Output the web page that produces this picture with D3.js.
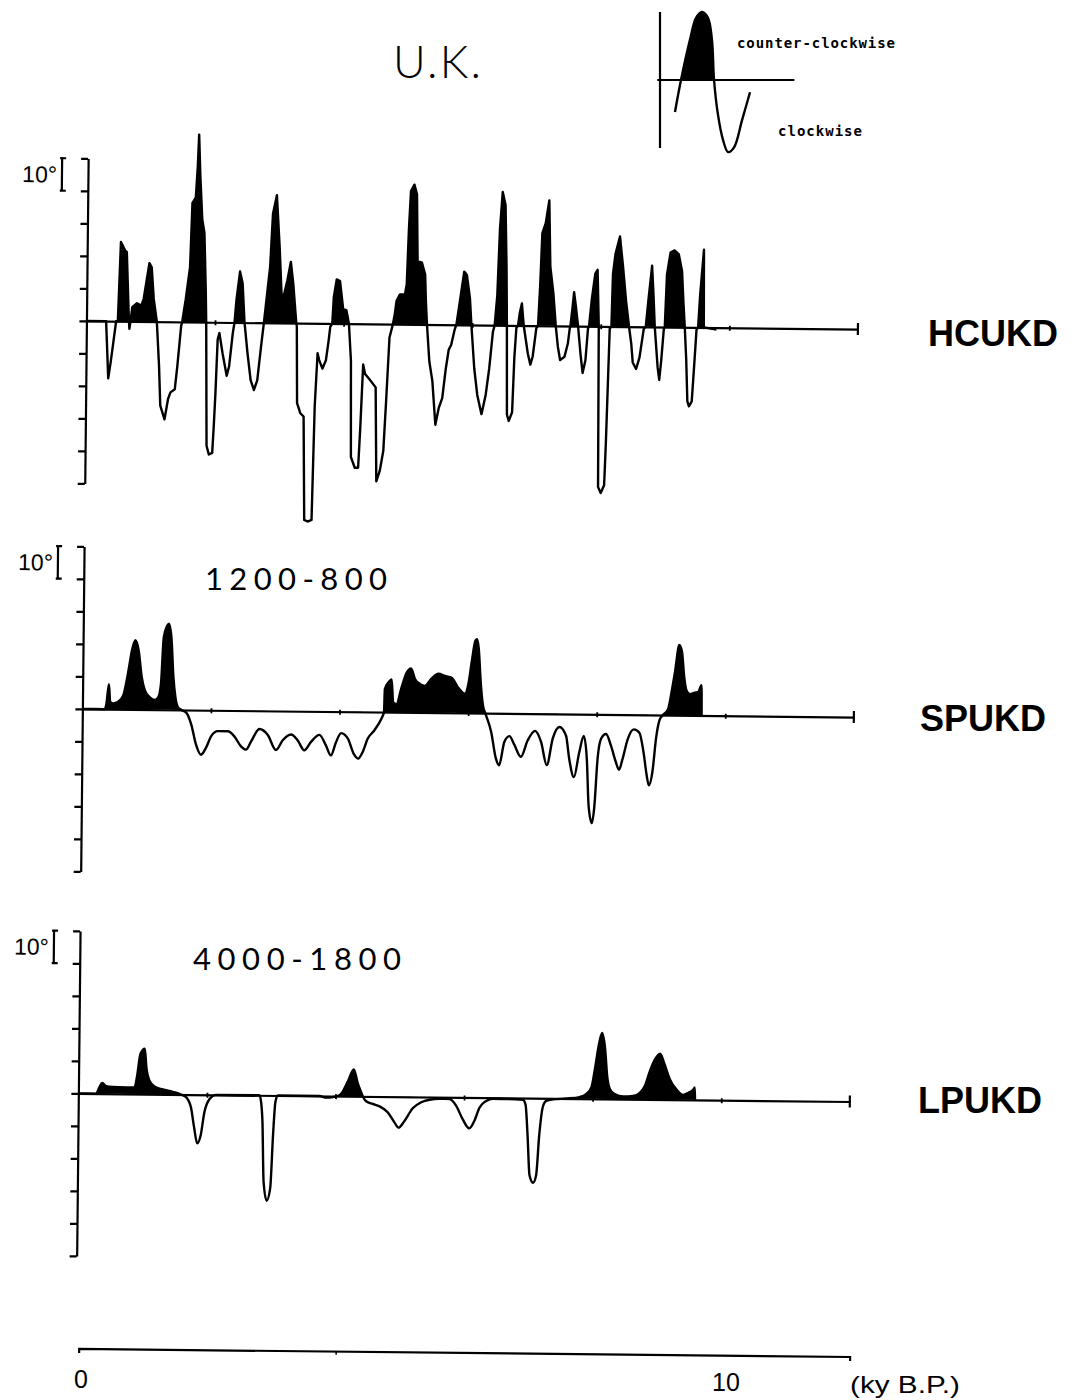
<!DOCTYPE html>
<html>
<head>
<meta charset="utf-8">
<script src="https://cdn.jsdelivr.net/npm/d3@7"></script>
<style>
  body { margin: 0; background: #fff; }
  svg { display: block; }
</style>
</head>
<body>
<svg id="chart" width="1074" height="1400"></svg>
<script>
// Declination swings for the U.K. record (degrees) against age (ky B.P.)
// HCUKD: full record
const hcukdAge = [0,0.306,0.348,0.384,0.462,0.488,0.524,0.591,0.617,0.659,0.669,0.685,0.711,0.783,0.851,0.887,0.970,1.007,1.043,1.095,
  1.136,1.162,1.230,1.281,1.318,1.385,1.421,1.474,1.489,1.541,1.603,1.630,1.681,1.707,1.723,1.748,1.785,1.821,1.852,1.863,
  1.888,1.925,1.977,1.997,2.018,2.044,2.070,2.122,2.190,2.226,2.278,2.303,2.330,2.381,2.423,2.459,2.511,2.563,2.615,2.666,
  2.719,2.760,2.848,2.884,2.942,2.993,3.030,3.066,3.118,3.170,3.211,3.264,3.273,3.289,3.341,3.393,3.419,3.471,3.533,3.564,
  3.600,3.626,3.678,3.731,3.771,3.793,3.824,3.844,3.886,3.938,3.990,4.042,4.083,4.120,4.135,4.197,4.249,4.276,4.311,4.342,
  4.405,4.509,4.534,4.587,4.638,4.674,4.716,4.767,4.794,4.820,4.872,4.949,4.976,5.001,5.027,5.079,5.121,5.141,5.209,5.261,
  5.276,5.297,5.339,5.390,5.443,5.494,5.546,5.598,5.639,5.676,5.728,5.754,5.805,5.868,5.910,5.961,5.988,6.039,6.090,6.159,
  6.221,6.272,6.324,6.350,6.386,6.417,6.454,6.500,6.525,6.540,6.555,6.584,6.635,6.661,6.688,6.713,6.739,6.770,6.802,6.869,
  6.911,6.946,6.999,7.024,7.051,7.077,7.128,7.180,7.206,7.258,7.300,7.336,7.373,7.440,7.491,7.518,7.528,7.559,7.580,7.611,
  7.647,7.689,7.725,7.767,7.802,7.818,7.855,7.907,7.942,7.969,7.984,8.026,8.078,8.098,8.140,8.166,8.182,8.218,8.285,8.338,
  8.389,8.440,8.478,8.503,8.556,8.607,8.669,8.700,8.736,8.789,8.815,8.840,8.892,8.918,8.945,8.981,8.996,9.022,9.074,9.136,
  9.203,9.256,9.281,9.307,9.334,9.359,9.385,9.427,9.463,9.490,9.515,9.541,9.593,9.603,9.800];
const hcukdDecl = [0,0,-17.6,-12.5,0,0,24.4,21.8,21.3,0.8,-2.3,0,4.4,5.6,4.9,7,18,16.7,7,0,
  -13.5,-25.8,-30,-23.8,-21.7,-20.7,-13.5,-1.2,0,7,17,36.7,38.3,48,57.7,45,31.6,27.5,9,0,
  -38,-40.7,-40.2,-32,-21.7,-5.3,-3.3,-9.5,-16.4,-13.5,-3.3,0,7,15.7,12.1,0,-9.5,-17.7,-20.7,-17.7,
  -7.4,0,17.2,33.6,39.3,23.4,9,8.5,13.1,18.8,12.1,0,-1,-24.6,-27.7,-28.7,-60.5,-61,-60.5,-25.6,
  -9.2,-11.3,-13.9,-11.3,-5.1,-1,0,8.2,13.6,13.1,4.6,4.1,0,-11.3,-41,-44.3,-44.3,-32,-12.5,-15.4,
  -16.9,-19.5,-48.4,-45.1,-39,-23.6,-4.1,0,3.1,7.2,9.2,9.2,12.3,29.5,41,43,40,19.5,19,15.4,
  7.2,0,-11.3,-17.4,-30.8,-25.6,-22.6,-13.3,-7.7,-6.2,-1.5,0,7.2,16.4,15.4,8.2,0,-13.3,-21.5,-27.4,
  -21.5,-13.3,-2,0,9.2,29.7,41,37,18,0,-27.5,-29.4,-26.7,-10,-0.7,0,3.9,6.8,0,-8.5,
  -12,-9.5,-0.7,0,12.1,28.5,31.6,38.6,18.3,10,0,-6.4,-10.5,-9.5,-5.4,-0.7,0,5.9,10.4,5.9,
  0,-8.5,-14.4,-10.5,-0.7,0,8,16.2,17.4,0,-49.4,-51.3,-48.9,-36.1,-0.7,0,16.2,22.4,27.7,18.3,
  8,0,-5.4,-11,-13,-9.5,-0.7,0,8,18.8,10,0,-12.6,-16.3,-10.5,-0.7,0,16.2,22.9,23.6,
  22.4,17.2,8,0,-9.7,-22.8,-24.3,-22.8,-10.5,-0.7,0,10,23.9,0,-0.6];

// SPUKD: short-period band, 1200-800 yr
const spukdAge = [0,0.347,0.373,0.409,0.431,0.477,0.555,0.633,0.711,0.762,0.813,0.866,0.918,0.969,1.047,1.124,1.177,1.218,1.255,1.333,
  1.373,1.411,1.446,1.488,1.540,1.617,1.695,1.773,1.851,1.928,2.006,2.110,2.266,2.369,2.473,2.551,2.628,2.757,2.888,3.017,
  3.121,3.250,3.355,3.457,3.561,3.691,3.795,3.872,3.950,4.028,4.132,4.235,4.297,4.365,4.443,4.546,4.650,4.692,4.701,4.754,
  4.806,4.832,4.883,4.961,5.039,5.106,5.168,5.246,5.323,5.428,5.532,5.635,5.739,5.843,5.946,5.998,6.050,6.101,6.128,6.154,
  6.194,6.232,6.267,6.361,6.439,6.490,6.568,6.646,6.723,6.827,6.932,7.045,7.138,7.232,7.320,7.423,7.527,7.579,7.656,7.734,
  7.803,7.854,7.890,7.943,7.978,8.020,8.072,8.149,8.227,8.305,8.356,8.409,8.487,8.580,8.667,8.736,8.787,8.823,8.876,8.927,
  8.978,9.031,9.109,9.160,9.212,9.274,9.316,9.358,9.393,9.446,9.523,9.575,9.627,9.632];
const spukdDecl = [0,0,1.7,7.7,2.3,1.8,2.3,4.3,12,18.2,21.3,18.2,10,5.9,3.8,3,3.8,8,22.4,26.5,
  22.4,10,3.8,0.8,0,-0.8,-4.4,-10.6,-13.7,-11.6,-8,-6.4,-6.4,-8,-11,-12,-9.5,-5.6,-7.4,-12,
  -9,-7.2,-9,-12,-9.4,-7.2,-10.5,-13.5,-9.4,-6.6,-8.2,-13.2,-14.4,-12.4,-8.2,-5.6,-2.1,0,7.1,9.1,
  10.1,3,2.5,7.7,12.2,13.5,10.3,8.8,8.2,10.5,12,11.3,10.8,7.7,5.9,8.8,16,22.2,22.7,20.1,
  8.8,2.1,0,-5.7,-13.9,-16,-8.8,-7,-9.6,-13.3,-8.2,-5.3,-8.6,-15.8,-7.6,-4,-6.7,-13.7,-19.4,-11.8,
  -6.7,-13.9,-28.4,-33.5,-28.4,-13.9,-7.5,-6,-9.6,-14.6,-17,-13.7,-7.5,-4.5,-5.5,-11.7,-18.6,-21.7,-17.5,-7.2,
  -1.6,0,1.8,7,13.4,21.6,19.6,11.3,7.6,6.5,7,7.2,9.3,0];

// LPUKD: long-period band, 4000-1800 yr
const lpukdAge = [0,0.275,0.327,0.369,0.431,0.534,0.742,0.872,0.908,0.960,1.027,1.054,1.105,1.183,1.312,1.468,1.598,1.676,1.754,1.805,
  1.857,1.910,1.961,2.039,2.143,2.817,2.843,2.868,2.895,2.946,2.999,3.035,3.066,3.102,3.751,3.855,3.958,4.062,4.114,4.191,
  4.280,4.347,4.400,4.425,4.478,4.581,4.685,4.814,4.918,4.985,5.074,5.203,5.334,5.463,5.619,5.774,5.879,5.981,6.086,6.163,
  6.241,6.346,6.448,6.915,6.957,6.993,7.030,7.087,7.133,7.175,7.227,7.279,7.382,7.591,7.798,7.902,7.980,8.031,8.082,8.136,
  8.187,8.222,8.265,8.342,8.472,8.627,8.732,8.809,8.887,8.965,9.043,9.105,9.198,9.303,9.405,9.483,9.561,9.587,9.592];
const lpukdDecl = [0,0,2,3.3,2.3,2.1,2,2,5.2,12.4,14,8.2,4.1,2.4,1.5,0.8,0,-0.8,-4,-10,
  -15,-12.4,-5.6,-1.4,0,0,-2,-8.2,-26.5,-32.4,-28.5,-12,-2,0,0,-0.5,-0.3,0.3,1.5,4.6,
  8.3,3.8,1.2,0,-1.5,-2.3,-3,-4.8,-7.8,-9.5,-7.5,-3.5,-1.6,-0.8,-0.5,-0.5,-2.6,-6.7,-9.5,-7.2,
  -3.1,-1,-0.3,-0.5,-2,-11.3,-23.7,-26,-23.7,-11.3,-2.6,-0.8,-0.3,0,0.5,1.5,3.6,9.3,16,20.3,
  15.2,7,3.1,1.5,0.8,1,2,4.1,8.8,12.4,14.1,11.3,6.2,3.1,1.5,2.1,3.1,3.8,0];

// Key sketch: one counter-clockwise lobe followed by one clockwise lobe
const keyX = [1.07,1.5,2.14,2.57,3,3.43,3.71,3.86,4.14,4.5,4.86,5.29,5.86,6.43];
const keyY = [-4.7,0,5.9,9.1,10,9.1,5.9,0,-5.1,-8.8,-10.6,-9.9,-5.9,-1.8];

const panelNames = ["HCUKD", "SPUKD", "LPUKD"];
const bandLabels = [null, "1200-800", "4000-1800"];
const ageTicks = [2, 4, 6, 8, 10];
const declTicks = d3.range(-50, 51, 10);

const svg = d3.select("#chart");
const W = 1074;

// Age scale shared by the three stacked panels
const ageScale = d3.scaleLinear().domain([0, 12]).range([82.5, 854]);

const panels = [
  { age: hcukdAge, decl: hcukdDecl, base: 325, curve: d3.curveLinear, labelY: 346 },
  { age: spukdAge, decl: spukdDecl, base: 713, curve: d3.curveMonotoneX, labelY: 731 },
  { age: lpukdAge, decl: lpukdDecl, base: 1097.5, curve: d3.curveMonotoneX, labelY: 1113 }
];
const labelX = [928, 920, 918];
const bandPos = [null, { x: 205, y: 590, w: 182 }, { x: 193, y: 970, w: 208 }];

// The plotted frame sits slightly tilted on the page
const tilted = svg.append("g").attr("transform", "rotate(0.6 470 700)");
const defs = svg.append("defs");

panels.forEach((p, i) => {
  const y = d3.scaleLinear().domain([-50, 50]).range([p.base + 162.5, p.base - 162.5]);
  const g = tilted.append("g");
  const pts = p.age.map((a, k) => [a, p.decl[k]]);

  // counter-clockwise (positive) swings are filled black
  const clipId = "above" + i;
  defs.append("clipPath").attr("id", clipId)
    .append("rect").attr("x", 0).attr("y", y(70)).attr("width", W).attr("height", y(0) - y(70));

  const area = d3.area()
    .x(d => ageScale(d[0])).y0(y(0)).y1(d => y(d[1])).curve(p.curve);
  g.append("path").datum(pts).attr("d", area)
    .attr("fill", "#000").attr("clip-path", `url(#${clipId})`);

  const line = d3.line().x(d => ageScale(d[0])).y(d => y(d[1])).curve(p.curve);
  g.append("path").datum(pts).attr("d", line)
    .attr("fill", "none").attr("stroke", "#000").attr("stroke-width", 2.4)
    .attr("stroke-linejoin", "round");

  // vertical declination axis, ticks every 10 degrees
  const yAxis = d3.axisLeft(y).tickValues(declTicks).tickSize(7).tickSizeOuter(0).tickFormat("");
  const ya = g.append("g").attr("transform", `translate(${ageScale(0)},0)`).call(yAxis);
  ya.selectAll("path, line").attr("stroke", "#000").attr("stroke-width", 2.2);

  // horizontal age axis along zero declination
  const xAxis = d3.axisBottom(ageScale).tickValues(ageTicks).tickSize(3).tickSizeOuter(0).tickFormat("");
  const xa = g.append("g").attr("transform", `translate(0,${y(0)})`).call(xAxis);
  xa.selectAll("path").attr("stroke", "#000").attr("stroke-width", 2.2);
  xa.selectAll(".tick line").attr("y1", -2).attr("y2", 3).attr("stroke", "#000").attr("stroke-width", 1.8);
  g.append("line")
    .attr("x1", ageScale(12)).attr("x2", ageScale(12))
    .attr("y1", y(0) - 6).attr("y2", y(0) + 6)
    .attr("stroke", "#000").attr("stroke-width", 2.2);

  // 10 degree scale bar
  const bx = ageScale(0) - 26;
  g.append("path")
    .attr("d", `M${bx - 2},${y(50)}H${bx + 4}M${bx},${y(50)}V${y(40)}M${bx - 2},${y(40)}H${bx + 4}`)
    .attr("fill", "none").attr("stroke", "#000").attr("stroke-width", 2.2);
  g.append("text")
    .attr("x", bx - 5).attr("y", y(45) + 8)
    .attr("text-anchor", "end")
    .attr("font-family", "'Liberation Sans', Arial, sans-serif")
    .attr("font-size", 23)
    .text("10°");

  // series name
  svg.append("text")
    .attr("x", labelX[i]).attr("y", p.labelY)
    .attr("font-family", "'Liberation Sans', Arial, sans-serif")
    .attr("font-weight", "bold").attr("font-size", 36)
    .text(panelNames[i]);

  if (bandLabels[i]) {
    svg.append("text")
      .attr("x", bandPos[i].x).attr("y", bandPos[i].y)
      .attr("font-family", "Lato, 'Open Sans', sans-serif")
      .attr("font-weight", 400).attr("font-size", 31)
      .attr("textLength", bandPos[i].w).attr("lengthAdjust", "spacing")
      .text(bandLabels[i]);
  }
});

// bottom age axis
const bottomScale = d3.scaleLinear().domain([0, 12]).range([86, 857]);
const bottom = tilted.append("g");
bottom.append("path")
  .attr("d", `M${bottomScale(0)},${1357}V${1353}H${bottomScale(12)}V${1357}`)
  .attr("fill", "none").attr("stroke", "#000").attr("stroke-width", 2.2);
bottom.append("line")
  .attr("x1", bottomScale(4)).attr("x2", bottomScale(4))
  .attr("y1", 1353).attr("y2", 1356)
  .attr("stroke", "#000").attr("stroke-width", 1.5);

const axisFont = "'Liberation Sans Narrow', 'Liberation Sans', Arial, sans-serif";
svg.append("text").attr("x", 81).attr("y", 1388).attr("text-anchor", "middle")
  .attr("font-family", axisFont).attr("font-size", 25).text("0");
svg.append("text").attr("x", 726).attr("y", 1391).attr("text-anchor", "middle")
  .attr("font-family", axisFont).attr("font-size", 25).text("10");
svg.append("text").attr("x", 850).attr("y", 1393)
  .attr("font-family", axisFont).attr("font-size", 24)
  .attr("textLength", 110).attr("lengthAdjust", "spacingAndGlyphs")
  .text("(ky B.P.)");

// title
svg.append("text").attr("x", 393).attr("y", 78)
  .attr("font-family", "Lato, 'Open Sans', sans-serif").attr("font-weight", 300)
  .attr("font-size", 45)
  .attr("textLength", 88).attr("lengthAdjust", "spacing")
  .text("U.K.");

// key sketch
const kx = d3.scaleLinear().domain([0, 10]).range([660, 800]);
const ky = d3.scaleLinear().domain([-10, 10]).range([148, 12]);
const key = svg.append("g");
const keyPts = keyX.map((v, k) => [v, keyY[k]]);
defs.append("clipPath").attr("id", "keyAbove")
  .append("rect").attr("x", 600).attr("y", 0).attr("width", 300).attr("height", ky(0));
key.append("path").datum(keyPts)
  .attr("d", d3.area().x(d => kx(d[0])).y0(ky(0)).y1(d => ky(d[1])).curve(d3.curveCatmullRom))
  .attr("fill", "#000").attr("clip-path", "url(#keyAbove)");
key.append("path").datum(keyPts)
  .attr("d", d3.line().x(d => kx(d[0])).y(d => ky(d[1])).curve(d3.curveCatmullRom))
  .attr("fill", "none").attr("stroke", "#000").attr("stroke-width", 2.4);
key.append("line").attr("x1", kx(0)).attr("x2", kx(0)).attr("y1", 12).attr("y2", 148)
  .attr("stroke", "#000").attr("stroke-width", 2.2);
key.append("line").attr("x1", kx(-0.2)).attr("x2", kx(9.6)).attr("y1", ky(0)).attr("y2", ky(0))
  .attr("stroke", "#000").attr("stroke-width", 2.2);
key.append("text").attr("x", 737).attr("y", 48)
  .attr("font-family", "'DejaVu Sans Mono', monospace").attr("font-weight", "bold")
  .attr("font-size", 14).attr("textLength", 158).attr("lengthAdjust", "spacing")
  .text("counter-clockwise");
key.append("text").attr("x", 778).attr("y", 136)
  .attr("font-family", "'DejaVu Sans Mono', monospace").attr("font-weight", "bold")
  .attr("font-size", 14).attr("textLength", 84).attr("lengthAdjust", "spacing")
  .text("clockwise");
</script>
</body>
</html>
